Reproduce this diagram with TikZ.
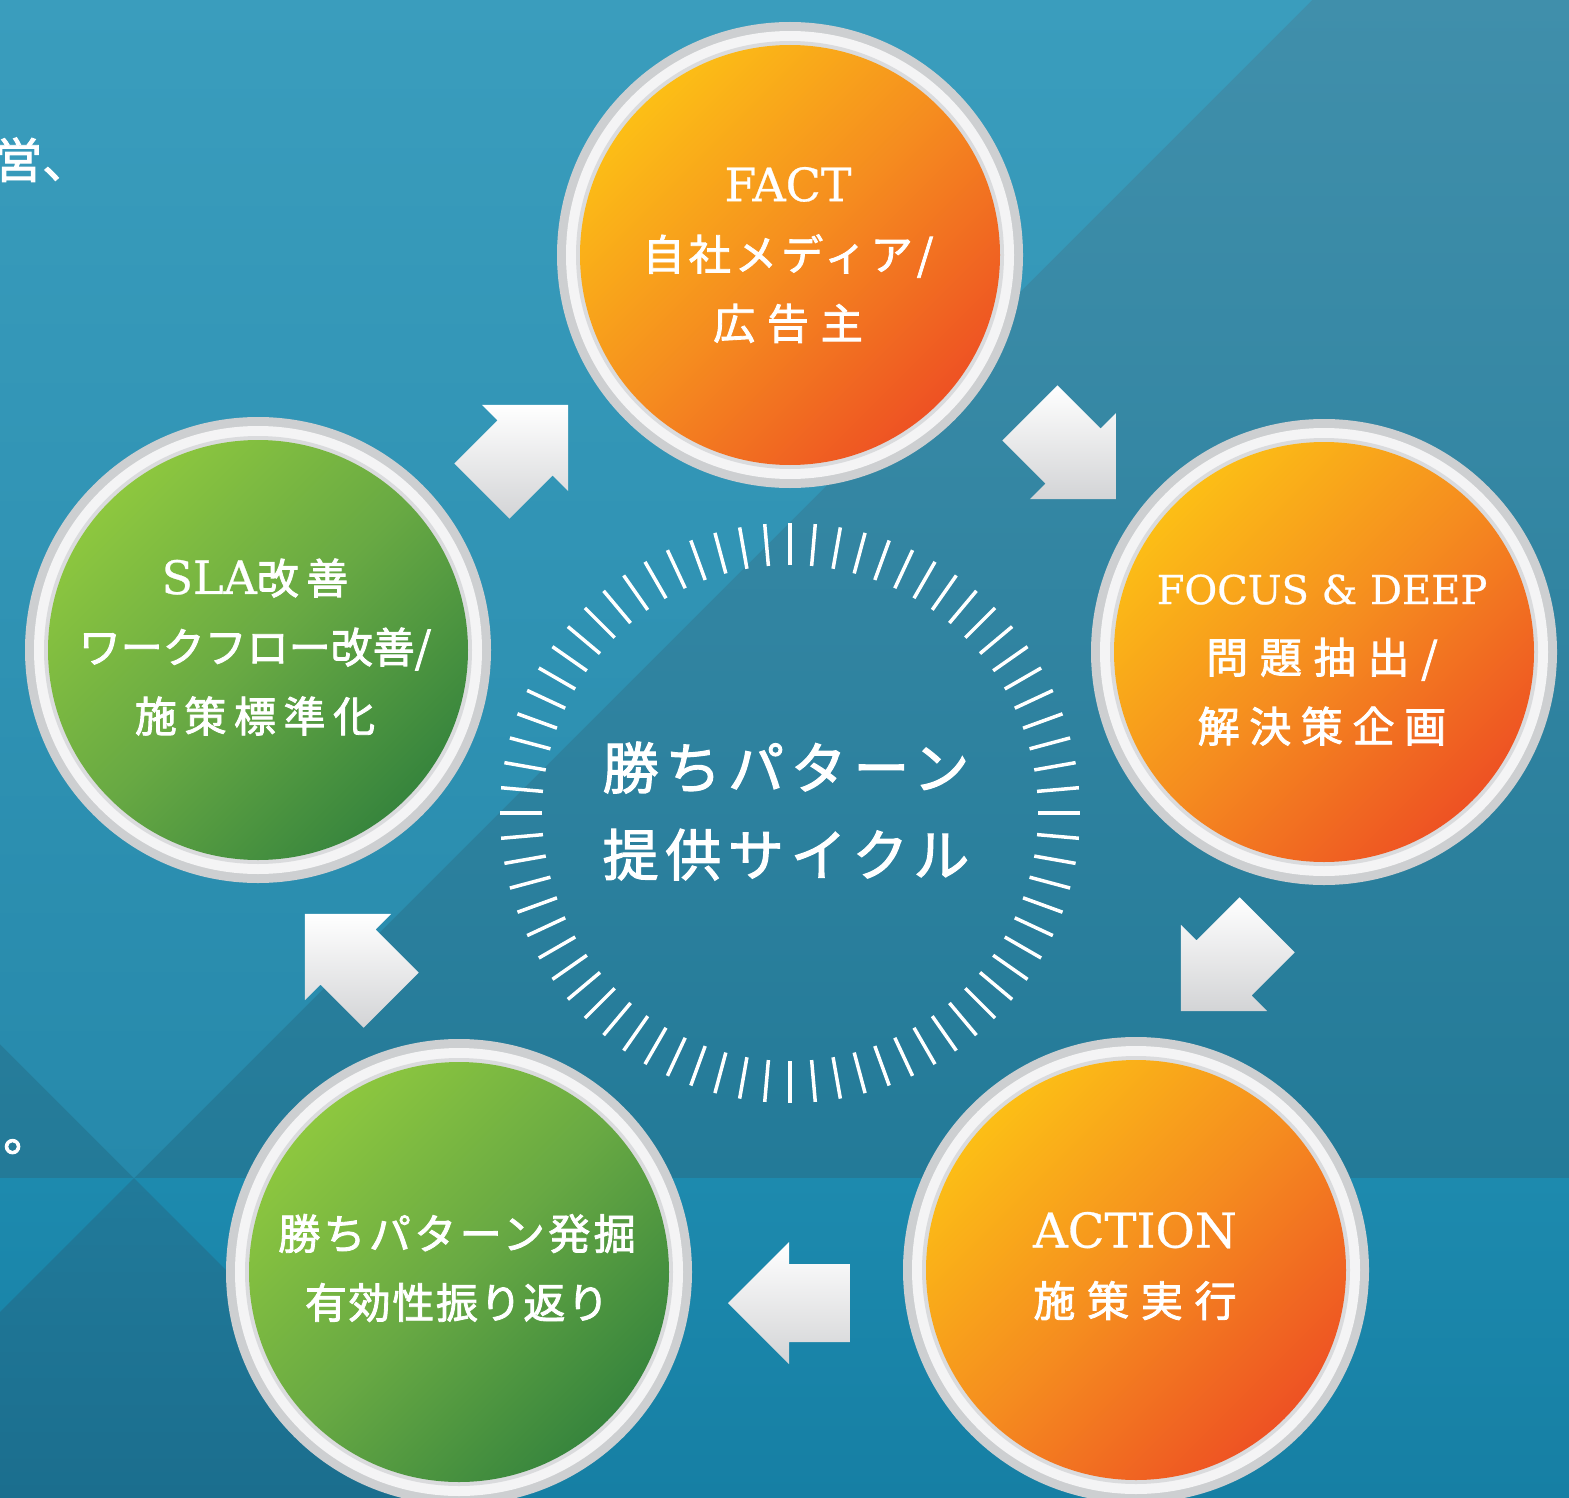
\documentclass[tikz,border=0pt]{standalone}
\usepackage{fontspec}
\setmainfont{Liberation Serif}
\newfontfamily\cjk{Noto Sans CJK JP}[FakeBold=2]
\newfontfamily\cjkctr{Noto Sans CJK JP}[FakeBold=2,LetterSpace=12]
\newfontfamily\latinfont{DejaVu Serif}[FakeBold=0.6]
\definecolor{bgLightTop}{HTML}{3A9DBD}
\definecolor{bgLightBot}{HTML}{2689AB}
\definecolor{bgDarkTop}{HTML}{408FAB}
\definecolor{bgDarkBot}{HTML}{237A98}
\definecolor{bgLowTop}{HTML}{1D8AAE}
\definecolor{bgLowBot}{HTML}{167FA4}
\definecolor{bgWedgeTop}{HTML}{217A9A}
\definecolor{bgWedgeBot}{HTML}{1B6E8E}
\definecolor{ringOut}{HTML}{CDCFD1}
\definecolor{ringBand}{HTML}{F4F4F5}
\definecolor{ringIn}{HTML}{DADBDD}
\definecolor{orTop}{HTML}{FCBE16}
\definecolor{orMid}{HTML}{F58C1F}
\definecolor{orBot}{HTML}{EE5223}
\definecolor{grTop}{HTML}{8DC73F}
\definecolor{grMid}{HTML}{68A943}
\definecolor{grBot}{HTML}{37853D}
\definecolor{arrowGrey}{HTML}{D3D4D6}
\newcommand\lat[2]{{\latinfont\fontsize{#1}{69}\selectfont #2}}
\newcommand\ls[2]{{\addfontfeatures{LetterSpace=#1}#2}}
\newcommand\discring[1]{%
  \fill[ringOut] (#1) circle[radius=233pt];
  \fill[ringBand] (#1) circle[radius=224pt];
  \fill[ringIn] (#1) circle[radius=214pt];}
\tikzset{
  orangefill/.style={top color=orTop, bottom color=orBot, middle color=orMid, shading angle=45},
  greenfill/.style={top color=grTop, bottom color=grBot, middle color=grMid, shading angle=45},
  stagetext/.style={text=white, align=center, font=\cjk\fontsize{42}{69}\selectfont, inner sep=0pt},
  hubtext/.style={text=white, align=center, font=\cjkctr\fontsize{56}{87}\selectfont, inner sep=0pt},
  ticktick/.style={white, line width=3.5pt},
  sidetext/.style={text=white, font=\cjk\fontsize{48}{48}\selectfont, inner sep=0pt, anchor=base west},
  blockarrow/.pic={\shade[top color=white, bottom color=arrowGrey] (#1:61) -- (#1+90:61) -- (#1+90:39) -- (#1+147.4:72.4) -- (#1+212.6:72.4) -- (#1+270:39) -- (#1+270:61) -- cycle;},
}
\begin{document}
\begin{tikzpicture}[x=1pt,y=-1pt]
\useasboundingbox (0,0) rectangle (1569,1498);
% background
\shade[top color=bgDarkTop, bottom color=bgDarkBot] (0,0) rectangle (1569,1178);
\shade[top color=bgLightTop, bottom color=bgLightBot] (0,0) -- (1312,0) -- (134,1178) -- (0,1044) -- cycle;
\shade[top color=bgLowTop, bottom color=bgLowBot] (0,1178) rectangle (1569,1498);
\shade[top color=bgWedgeTop, bottom color=bgWedgeBot] (134,1178) -- (0,1312) -- (0,1498) -- (454,1498) -- cycle;
% hub
\coordinate (hub) at (790,813);
\foreach \a in {0,5,...,355} \draw[ticktick, shift={(hub)}] (\a:248) -- (\a:290);
\node[hubtext] (hubT) at (786,811) {勝ちパターン\\提供サイクル};
% stages
\coordinate (c1) at (790,255);
\coordinate (c2) at (1324,652);
\coordinate (c3) at (1136,1270);
\coordinate (c4) at (459,1272);
\coordinate (c5) at (258,650);
\discring{c1} \shade[orangefill] (c1) circle[radius=210pt];
\discring{c2} \shade[orangefill] (c2) circle[radius=210pt];
\discring{c3} \shade[orangefill] (c3) circle[radius=210pt];
\discring{c4} \shade[greenfill] (c4) circle[radius=210pt];
\discring{c5} \shade[greenfill] (c5) circle[radius=210pt];
\node[stagetext] (fact) at (788,255) {\lat{46}{FACT}\\\ls{10}{自社メディア/}\\\ls{28}{広告主}};
\node[stagetext] (focus) at (1322,660) {\lat{40}{FOCUS \& DEEP}\\\ls{28}{問題抽出/}\\\ls{23}{解決策企画}};
\node[stagetext] (action) at (1135,1266) {\lat{48}{ACTION}\\\ls{28}{施策実行}};
\node[stagetext] (win) at (457,1268) {\ls{8}{勝ちパターン発掘}\\\ls{4}{有効性振り返り}};
\node[stagetext] (sla) at (255,647) {\lat{46}{SLA}\ls{18}{改善}\\ワークフロー改善/\\\ls{18}{施策標準化}};
% arrows
\pic at (525,448) {blockarrow=-45};
\pic at (1073,456) {blockarrow=45};
\pic at (1224,968) {blockarrow=135};
\pic at (789,1303) {blockarrow=180};
\pic at (348,957) {blockarrow=-135};
% cut-off side text
\node[sidetext] (cutA) at (-6,178) {営、};
\node[sidetext] (cutB) at (3,1151) {。};
\end{tikzpicture}
\end{document}
